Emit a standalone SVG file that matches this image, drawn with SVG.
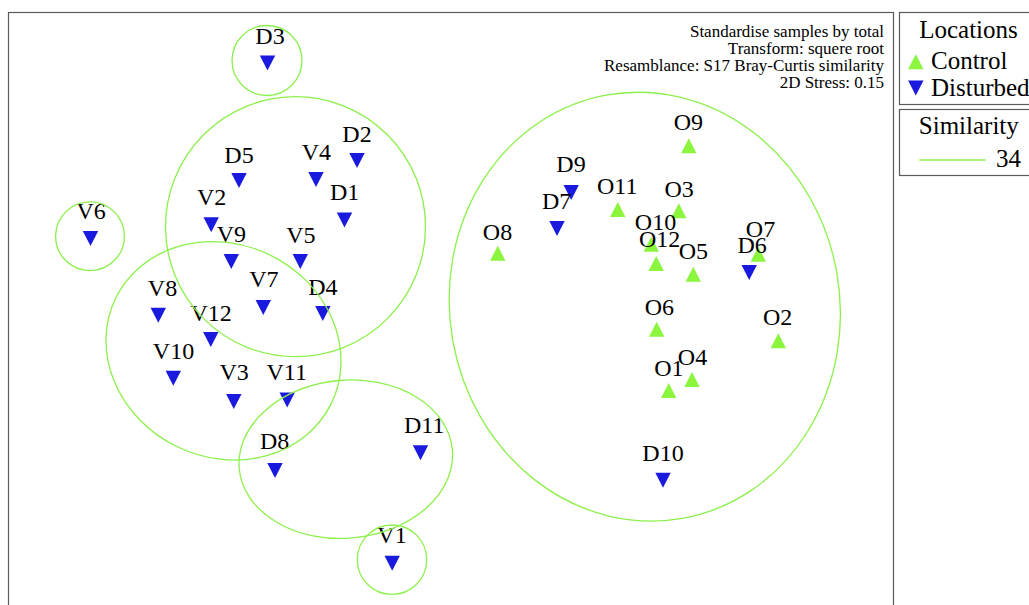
<svg xmlns="http://www.w3.org/2000/svg" xmlns:xlink="http://www.w3.org/1999/xlink" width="1029" height="605" viewBox="0 0 1029 605">
<style>
text{font-family:'Liberation Serif',Tinos,'Times New Roman',Times,'DejaVu Serif',serif;fill:#000}
.lbl{font-size:24px;text-anchor:middle}
.leg{font-size:25px}
.note{font-size:17px;text-anchor:end}
.dist{fill:#1a1ade}
.ctrl{fill:#8cf53e}
.hull{fill:none;stroke:#8cf04a;stroke-width:1.3}
.frame{fill:none;stroke:#5a5a5a;stroke-width:1.2}
</style>
<defs>
<path id="dn" d="M-7.7,-7.5 L7.7,-7.5 L0,7.5 Z"/>
<path id="up" d="M0,-7.5 L7.7,7.5 L-7.7,7.5 Z"/>
</defs>
<rect width="1029" height="605" fill="#fff"/>
<rect class="frame" x="8.5" y="12.5" width="885" height="620"/>
<g id="notes">
<text class="note" x="884" y="37">Standardise samples by total</text>
<text class="note" x="884" y="54">Transform: squere root</text>
<text class="note" x="884" y="71">Resamblance: S17 Bray-Curtis similarity</text>
<text class="note" x="884" y="88">2D Stress: 0.15</text>
</g>
<g id="legend-locations">
<rect class="frame" x="899.5" y="12.5" width="140" height="92"/>
<text class="leg" x="968.5" y="37.5" text-anchor="middle">Locations</text>
<use href="#up" class="ctrl" x="915.8" y="61.7"/>
<text class="leg" x="931" y="69">Control</text>
<use href="#dn" class="dist" x="915.8" y="88"/>
<text class="leg" x="931" y="95.5">Disturbed</text>
</g>
<g id="legend-similarity">
<rect class="frame" x="899.5" y="109.5" width="140" height="66"/>
<text class="leg" x="968.8" y="134" text-anchor="middle">Similarity</text>
<line class="hull" x1="919.3" y1="160" x2="985.7" y2="160"/>
<text class="leg" x="996" y="167">34</text>
</g>
<g id="nodes">
<g id="D3"><use href="#dn" class="dist" x="267.5" y="63"/><text class="lbl" x="270" y="44">D3</text></g>
<g id="D2"><use href="#dn" class="dist" x="357" y="160.5"/><text class="lbl" x="357" y="141.5">D2</text></g>
<g id="D5"><use href="#dn" class="dist" x="239" y="180.5"/><text class="lbl" x="239" y="162.5">D5</text></g>
<g id="V4"><use href="#dn" class="dist" x="316" y="179.5"/><text class="lbl" x="316.3" y="160">V4</text></g>
<g id="D1"><use href="#dn" class="dist" x="344.5" y="220"/><text class="lbl" x="344.7" y="200">D1</text></g>
<g id="V2"><use href="#dn" class="dist" x="211.2" y="224.8"/><text class="lbl" x="211.7" y="205">V2</text></g>
<g id="V9"><use href="#dn" class="dist" x="231.3" y="261.5"/><text class="lbl" x="231.3" y="241.7">V9</text></g>
<g id="V5"><use href="#dn" class="dist" x="300.3" y="261.5"/><text class="lbl" x="300.8" y="243.3">V5</text></g>
<g id="V6"><use href="#dn" class="dist" x="90.5" y="238.5"/><text class="lbl" x="91.2" y="219.3">V6</text></g>
<g id="V7"><use href="#dn" class="dist" x="263.3" y="307.5"/><text class="lbl" x="263.8" y="287.3">V7</text></g>
<g id="D4"><use href="#dn" class="dist" x="322.8" y="313.5"/><text class="lbl" x="322.8" y="295">D4</text></g>
<g id="V8"><use href="#dn" class="dist" x="158.3" y="315.2"/><text class="lbl" x="162.5" y="295.7">V8</text></g>
<g id="V12"><use href="#dn" class="dist" x="210.8" y="339.5"/><text class="lbl" x="211.2" y="321">V12</text></g>
<g id="V10"><use href="#dn" class="dist" x="173.3" y="378.3"/><text class="lbl" x="173.5" y="359">V10</text></g>
<g id="V3"><use href="#dn" class="dist" x="233.8" y="401.5"/><text class="lbl" x="234.2" y="380">V3</text></g>
<g id="V11"><use href="#dn" class="dist" x="287.2" y="400"/><text class="lbl" x="286.7" y="380">V11</text></g>
<g id="D8"><use href="#dn" class="dist" x="275" y="470.5"/><text class="lbl" x="274.7" y="449.3">D8</text></g>
<g id="D11"><use href="#dn" class="dist" x="420.5" y="452.8"/><text class="lbl" x="424.2" y="433.3">D11</text></g>
<g id="V1"><use href="#dn" class="dist" x="392.2" y="563.3"/><text class="lbl" x="392" y="543.3">V1</text></g>
<g id="D9"><use href="#dn" class="dist" x="571.2" y="192.5"/><text class="lbl" x="571" y="172.3">D9</text></g>
<g id="D7"><use href="#dn" class="dist" x="557" y="228.5"/><text class="lbl" x="556.7" y="209">D7</text></g>
<g id="D10"><use href="#dn" class="dist" x="663" y="480.2"/><text class="lbl" x="663" y="460.7">D10</text></g>
<g id="O8"><use href="#up" class="ctrl" x="497.8" y="253.2"/><text class="lbl" x="497.5" y="240">O8</text></g>
<g id="O11"><use href="#up" class="ctrl" x="617.8" y="209.5"/><text class="lbl" x="617.2" y="194.3">O11</text></g>
<g id="O9"><use href="#up" class="ctrl" x="688.8" y="145.8"/><text class="lbl" x="688.3" y="130">O9</text></g>
<g id="O3"><use href="#up" class="ctrl" x="678.8" y="210.8"/><text class="lbl" x="679.2" y="196.7">O3</text></g>
<g id="O10"><use href="#up" class="ctrl" x="651.2" y="244.2"/><text class="lbl" x="655.5" y="230">O10</text></g>
<g id="O12"><use href="#up" class="ctrl" x="656.2" y="263.5"/><text class="lbl" x="659.7" y="247.3">O12</text></g>
<g id="O5"><use href="#up" class="ctrl" x="693.3" y="274.2"/><text class="lbl" x="693.3" y="259.3">O5</text></g>
<g id="O7"><use href="#up" class="ctrl" x="758.3" y="254.2"/><text class="lbl" x="760.5" y="236.7">O7</text></g>
<g id="D6"><use href="#dn" class="dist" x="749.2" y="272.5"/><text class="lbl" x="752.2" y="252.7">D6</text></g>
<g id="O6"><use href="#up" class="ctrl" x="656.7" y="329.2"/><text class="lbl" x="659.3" y="315">O6</text></g>
<g id="O2"><use href="#up" class="ctrl" x="778.3" y="340.8"/><text class="lbl" x="777.7" y="325">O2</text></g>
<g id="O4"><use href="#up" class="ctrl" x="692" y="379.5"/><text class="lbl" x="692.5" y="365">O4</text></g>
<g id="O1"><use href="#up" class="ctrl" x="668.7" y="390.5"/><text class="lbl" x="668.8" y="376">O1</text></g>
</g>
<g id="connectors">
<circle class="hull" cx="267" cy="60.5" r="35"/>
<ellipse class="hull" cx="295.5" cy="226.7" rx="130" ry="130"/>
<circle class="hull" cx="90" cy="236.2" r="34.4"/>
<ellipse class="hull" cx="0" cy="0" rx="120" ry="106.5" transform="translate(223.5 350.8) rotate(26)"/>
<ellipse class="hull" cx="0" cy="0" rx="107" ry="79" transform="translate(345.8 459.2) rotate(-5)"/>
<circle class="hull" cx="392" cy="559.7" r="34.7"/>
<ellipse class="hull" cx="0" cy="0" rx="195" ry="215" transform="translate(644.8 306.7) rotate(-10)"/>
</g>
</svg>
